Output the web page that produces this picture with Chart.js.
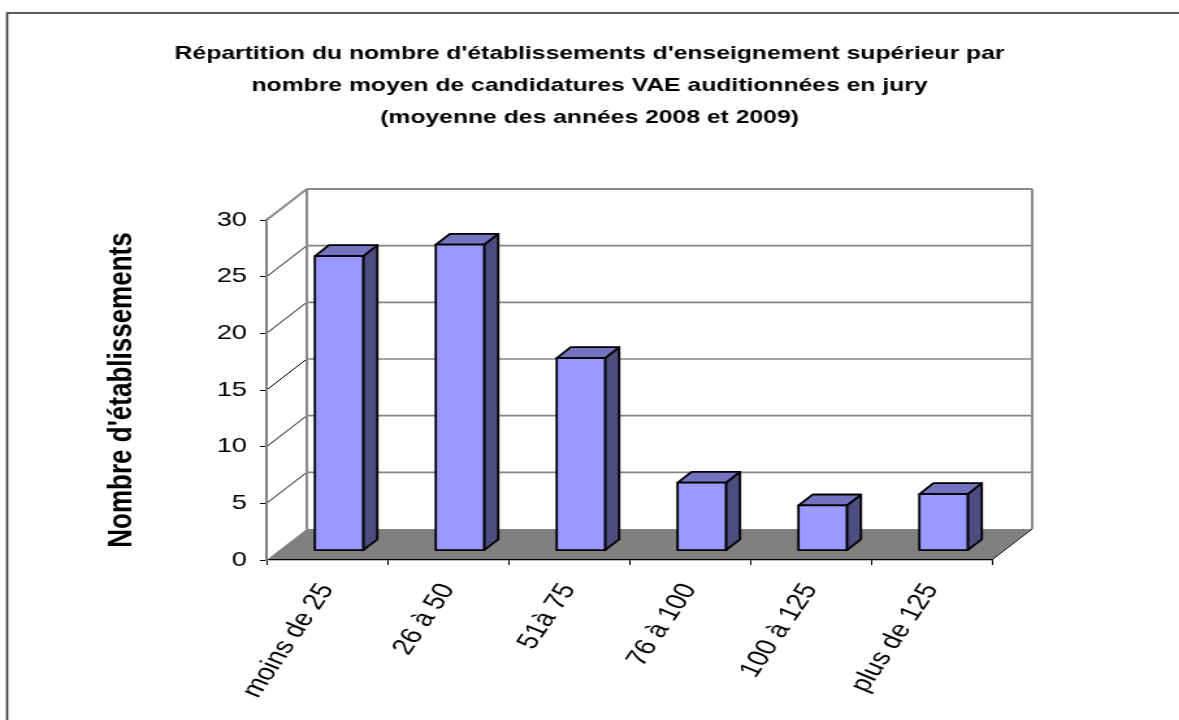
<!DOCTYPE html>
<html lang="fr">
<head>
<meta charset="utf-8">
<title>Etablissements par nombre moyen de candidatures VAE</title>
<script src="https://cdn.jsdelivr.net/npm/chart.js@4/dist/chart.umd.min.js"></script>
<style>
html, body { margin: 0; padding: 0; background: #fff; overflow: hidden; }
/* the original is stretched horizontally, so draw narrow and scale */
#wrap { position: relative; width: 907px; height: 720px; transform: scaleX(1.3); transform-origin: 0 0; }
</style>
</head>
<body>
<div id="wrap"><canvas id="vae-chart"></canvas></div>
<script>
const categories = ['moins de 25', '26 à 50', '51à 75', '76 à 100', '100 à 125', 'plus de 125'];
const nbEtablissements = [26, 27, 17, 6, 4, 5];
const yTicks = [0, 5, 10, 15, 20, 25, 30];
const titleLines = [
  "Répartition du nombre d'établissements d'enseignement supérieur par",
  "nombre moyen de candidatures VAE auditionnées en jury",
  "(moyenne des années 2008 et 2009)"
];
const yTitle = "Nombre d'établissements";

const FONT = "Arial, 'Liberation Sans', sans-serif";
const DX = 31, DY = -31;        // depth of the 3D box
const BAR_FRONT = 0.3, BAR_DEPTH = 0.35;

// back walls, floor, and the 3D bars
const excel3d = {
  id: 'excel3d',
  beforeDraw(chart) {
    const ctx = chart.ctx;
    const xs = chart.scales.x, ys = chart.scales.y;
    const x0 = xs.left, x1 = xs.right;
    const yBase = ys.getPixelForValue(0);
    const yTop = ys.getPixelForValue(yTicks[yTicks.length - 1]);
    ctx.save();
    ctx.fillStyle = '#fff';
    ctx.fillRect(0, 0, chart.width, chart.height);

    // outer frame (cropped on the right and bottom)
    ctx.strokeStyle = '#333';
    ctx.lineWidth = 1.6;
    ctx.strokeRect(5.5, 13, chart.width + 40, chart.height + 40);

    // back wall gridlines + side wall diagonals
    yTicks.forEach(v => {
      if (v === 0) return;
      const py = ys.getPixelForValue(v);
      const last = v === yTicks[yTicks.length - 1];
      ctx.strokeStyle = last ? '#8c8c8c' : '#000';
      ctx.lineWidth = last ? 2 : 1;
      ctx.beginPath();
      ctx.moveTo(x0, py);
      ctx.lineTo(x0 + DX, py + DY);
      ctx.stroke();
      ctx.strokeStyle = last ? '#8c8c8c' : '#858585';
      ctx.lineWidth = last ? 2 : 1.6;
      ctx.beginPath();
      ctx.moveTo(x0 + DX, py + DY);
      ctx.lineTo(x1 + DX, py + DY);
      ctx.stroke();
    });

    // back wall side edges
    ctx.strokeStyle = '#8c8c8c';
    ctx.lineWidth = 2;
    ctx.beginPath();
    ctx.moveTo(x0 + DX, yBase + DY);
    ctx.lineTo(x0 + DX, yTop + DY);
    ctx.moveTo(x1 + DX, yBase + DY);
    ctx.lineTo(x1 + DX, yTop + DY);
    ctx.stroke();

    // floor
    ctx.fillStyle = '#808080';
    ctx.beginPath();
    ctx.moveTo(x0, yBase);
    ctx.lineTo(x1, yBase);
    ctx.lineTo(x1 + DX, yBase + DY);
    ctx.lineTo(x0 + DX, yBase + DY);
    ctx.closePath();
    ctx.fill();
    ctx.strokeStyle = '#222';
    ctx.lineWidth = 1;
    ctx.beginPath();
    ctx.moveTo(x1, yBase);
    ctx.lineTo(x1 + DX, yBase + DY);
    ctx.stroke();
    ctx.restore();
  },
  afterDatasetsDraw(chart) {
    const ctx = chart.ctx;
    const meta = chart.getDatasetMeta(0);
    const fx = DX * BAR_FRONT, fy = DY * BAR_FRONT;
    const bx = DX * BAR_DEPTH, by = DY * BAR_DEPTH;
    ctx.save();
    ctx.lineWidth = 1.8;
    ctx.lineJoin = 'round';
    ctx.strokeStyle = '#000';
    meta.data.forEach(bar => {
      const p = bar.getProps(['x', 'y', 'base', 'width'], true);
      const L = p.x - p.width / 2 + fx, R = p.x + p.width / 2 + fx;
      const T = p.y + fy, B = p.base + fy;
      // right side
      ctx.fillStyle = '#4d4d80';
      ctx.beginPath();
      ctx.moveTo(R, T); ctx.lineTo(R + bx, T + by); ctx.lineTo(R + bx, B + by); ctx.lineTo(R, B);
      ctx.closePath(); ctx.fill(); ctx.stroke();
      // top
      ctx.fillStyle = '#7373bf';
      ctx.beginPath();
      ctx.moveTo(L, T); ctx.lineTo(R, T); ctx.lineTo(R + bx, T + by); ctx.lineTo(L + bx, T + by);
      ctx.closePath(); ctx.fill(); ctx.stroke();
      // front
      ctx.fillStyle = '#9999ff';
      ctx.beginPath();
      ctx.rect(L, T, R - L, B - T);
      ctx.fill(); ctx.stroke();
    });
    ctx.restore();
  }
};

new Chart(document.getElementById('vae-chart'), {
  type: 'bar',
  data: {
    labels: categories,
    datasets: [{
      data: nbEtablissements,
      backgroundColor: 'rgba(0,0,0,0)',
      borderWidth: 0,
      categoryPercentage: 1,
      barPercentage: 0.4
    }]
  },
  options: {
    responsive: true,
    maintainAspectRatio: false,
    animation: false,
    layout: { padding: 0 },
    plugins: {
      legend: { display: false },
      tooltip: { enabled: false },
      title: {
        display: true,
        text: titleLines,
        color: '#000',
        font: { family: FONT, size: 19, weight: 'bold', lineHeight: 32 / 19 },
        padding: { top: 38, bottom: 86 }
      }
    },
    scales: {
      x: {
        grid: { offset: true, drawOnChartArea: false, color: '#000', tickLength: 5 },
        border: { color: '#000', width: 1.2 },
        ticks: {
          color: '#000',
          font: { family: FONT, size: 23 },
          minRotation: 62, maxRotation: 62,
          autoSkip: false,
          padding: 14
        },
        afterFit(s) { s.height = 160; }
      },
      y: {
        min: 0, max: 30,
        ticks: { stepSize: 5, color: '#000', font: { family: FONT, size: 21 }, padding: 10 },
        grid: { drawOnChartArea: false, color: '#000', tickLength: 5 },
        border: { color: '#808080', width: 2 },
        title: {
          display: true,
          text: yTitle,
          color: '#000',
          font: { family: FONT, size: 26, weight: 'bold' },
          padding: { top: 78, bottom: 0 }
        },
        afterFit(s) { s.width = 205; }
      },
      // empty right-hand box that keeps the plot clear of the right margin
      spacer: {
        type: 'linear',
        axis: 'y',
        position: 'right',
        ticks: { display: false },
        grid: { display: false },
        border: { display: false },
        afterFit(s) { s.width = 144; }
      }
    }
  },
  plugins: [excel3d]
});
</script>
</body>
</html>
